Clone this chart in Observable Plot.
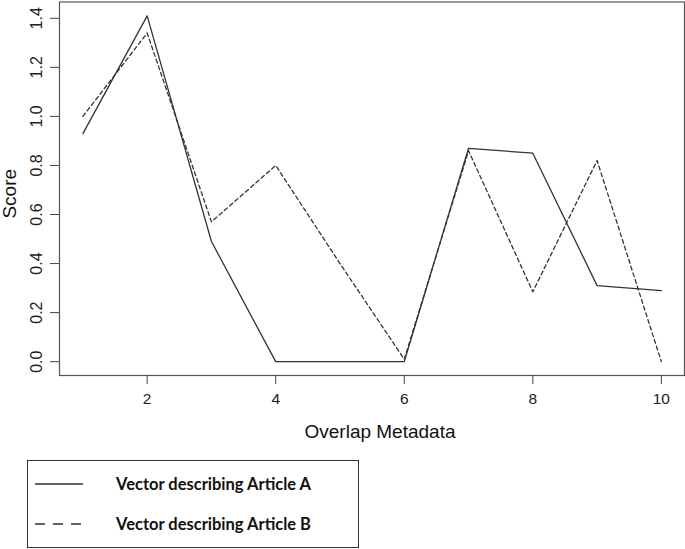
<!DOCTYPE html>
<html><head><meta charset="utf-8">
<script src="https://cdn.jsdelivr.net/npm/d3@7"></script>
<script src="https://cdn.jsdelivr.net/npm/@observablehq/plot@0.6"></script>
<style>
body{margin:0;background:#fff;}
#wrap{position:relative;width:685px;height:549px;overflow:hidden;}
#legend{position:absolute;left:27px;top:460px;width:332px;height:88px;border:1.3px solid #333;box-sizing:border-box;font-family:Lato,"Open Sans",sans-serif;font-weight:bold;font-size:16.5px;color:#111;}
.row{position:absolute;left:7px;height:20px;display:flex;align-items:center;white-space:nowrap;}
.row svg{margin-right:33px;}
</style></head><body><div id="wrap"></div>
<script>
const metadata = [1, 2, 3, 4, 5, 6, 7, 8, 9, 10];
const articleA = [0.93, 1.41, 0.49, 0.00, 0.00, 0.00, 0.87, 0.85, 0.31, 0.29];
const articleB = [1.00, 1.34, 0.57, 0.80, 0.40, 0.01, 0.86, 0.285, 0.82, 0.00];
const xTicks = [2, 4, 6, 8, 10];
const yTicks = [0, 0.2, 0.4, 0.6, 0.8, 1.0, 1.2, 1.4];
const seriesNames = ["Vector describing Article A", "Vector describing Article B"];
const xTitle = "Overlap Metadata";
const yTitle = "Score";

const dataA = metadata.map((m, i) => ({x: m, y: articleA[i]}));
const dataB = metadata.map((m, i) => ({x: m, y: articleB[i]}));

const chart = Plot.plot({
  width: 685,
  height: 450,
  marginLeft: 59,
  marginRight: 1,
  marginTop: 1.5,
  marginBottom: 75,
  style: {fontFamily: "'Liberation Sans', Arial, sans-serif", background: "#fff", color: "#222", overflow: "visible"},
  x: {domain: [0.636, 10.36]},
  y: {domain: [-0.0564, 1.4664]},
  marks: [
    Plot.frame({stroke: "#555", strokeWidth: 1.2}),
    Plot.axisX(xTicks, {tickSize: 9, tickPadding: 8, fontSize: 15.5, stroke: "#444", label: null}),
    Plot.axisY(yTicks, {tickSize: 9, tickFormat: () => "", stroke: "#444", label: null}),
    Plot.text(yTicks, {y: d => d, text: d => d.toFixed(1), frameAnchor: "left", dx: -23, rotate: -90, textAnchor: "middle", lineAnchor: "middle", fontSize: 16, fill: "#222"}),
    Plot.text([yTitle], {text: d => d, frameAnchor: "left", dx: -50, dy: 5, rotate: -90, textAnchor: "middle", lineAnchor: "middle", fontSize: 19, fill: "#111"}),
    Plot.text([xTitle], {text: d => d, frameAnchor: "bottom", dy: 56, dx: 8, textAnchor: "middle", lineAnchor: "middle", fontSize: 19, fill: "#111"}),
    Plot.line(dataA, {x: "x", y: "y", stroke: "#333", strokeWidth: 1.3}),
    Plot.line(dataB, {x: "x", y: "y", stroke: "#333", strokeWidth: 1.3, strokeDasharray: "4,3"})
  ]
});
const wrap = document.getElementById("wrap");
wrap.appendChild(chart);

const legend = document.createElement("div");
legend.id = "legend";
const dashes = ["none", "10,8"];
const tops = [13, 53];
seriesNames.forEach((name, i) => {
  const row = document.createElement("div");
  row.className = "row";
  row.style.top = tops[i] + "px";
  row.innerHTML = `<svg width="48" height="10"><line x1="0" x2="48" y1="5" y2="5" stroke="#333" stroke-width="1.5" stroke-dasharray="${dashes[i]}"/></svg><span>${name}</span>`;
  legend.appendChild(row);
});
wrap.appendChild(legend);
</script>
</body></html>
